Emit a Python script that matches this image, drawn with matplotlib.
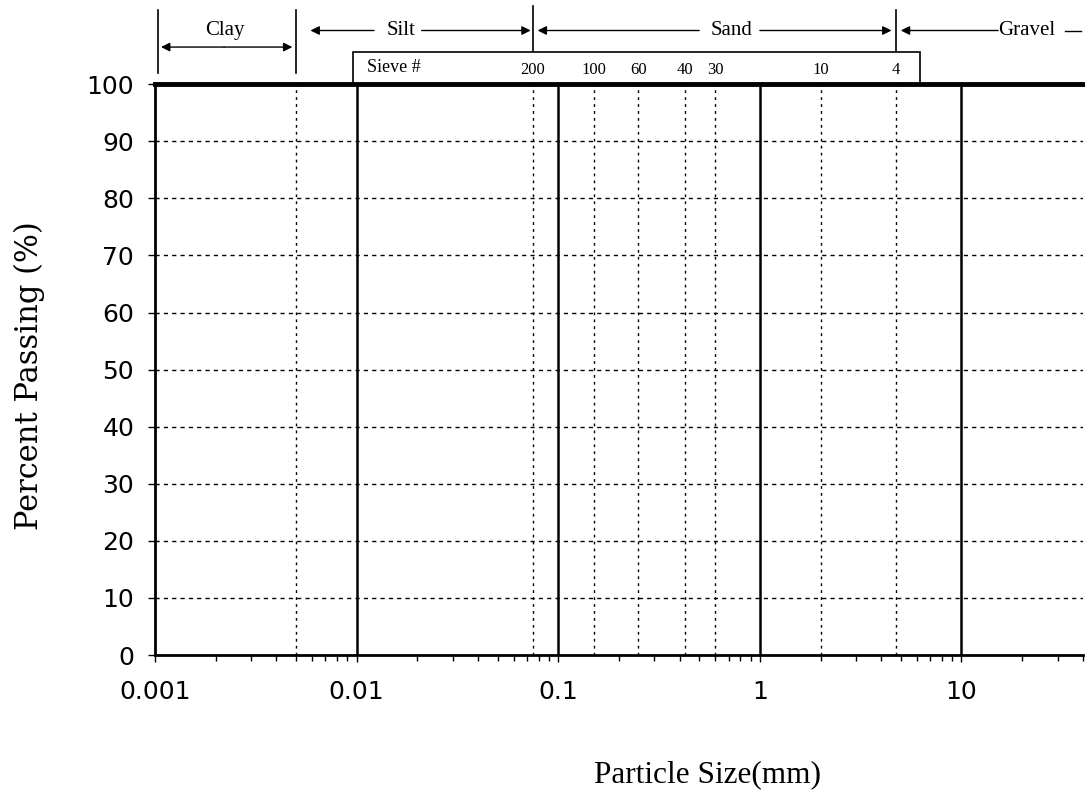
import matplotlib
matplotlib.use("Agg")
import matplotlib.pyplot as plt
import matplotlib.transforms as mtransforms
from matplotlib.patches import Rectangle
from matplotlib.ticker import LogLocator, NullFormatter

# Axis ranges and ticks
x_min, x_max = 0.001, 40
decade_ticks = [0.001, 0.01, 0.1, 1, 10]
decade_labels = ["0.001", "0.01", "0.1", "1", "10"]
percent_ticks = [0, 10, 20, 30, 40, 50, 60, 70, 80, 90, 100]

# Sieve numbers and their openings (mm)
sieve_names = ["200", "100", "60", "40", "30", "10", "4"]
sieve_sizes = [0.075, 0.15, 0.25, 0.425, 0.6, 2.0, 4.75]

# Soil class boundaries (mm)
clay_silt = 0.005
silt_sand = 0.075
sand_gravel = 4.75

serif = ["Liberation Serif", "DejaVu Serif"]

fig = plt.figure(figsize=(10.85, 7.94), dpi=100)
ax = fig.add_axes([0.1429, 0.175, 0.8551, 0.719])
ax.set_xscale("log")
ax.set_xlim(x_min, x_max)
ax.set_ylim(0, 100)

# grid: dotted horizontals, solid decade verticals, dotted sieve verticals
for p in percent_ticks[1:-1]:
    ax.axhline(p, color="k", lw=1.0, ls=(0, (3, 3)), zorder=1)
for d in decade_ticks[1:]:
    ax.axvline(d, color="k", lw=1.8, zorder=2)
for s in [clay_silt] + sieve_sizes:
    ax.axvline(s, color="k", lw=1.0, ls=(0, (2, 3)), zorder=1)

ax.set_xticks(decade_ticks)
ax.set_xticklabels(decade_labels, fontfamily="DejaVu Sans", fontsize=18)
ax.xaxis.set_minor_locator(LogLocator(base=10, subs=range(2, 10)))
ax.xaxis.set_minor_formatter(NullFormatter())
ax.set_yticks(percent_ticks)
ax.set_yticklabels([str(p) for p in percent_ticks], fontfamily="DejaVu Sans", fontsize=18)
ax.tick_params(axis="both", which="major", direction="out", length=5, width=1)
ax.tick_params(axis="x", which="minor", direction="out", length=4, width=1)
ax.tick_params(axis="y", pad=10)
ax.tick_params(axis="x", pad=13)

ax.spines["top"].set_linewidth(3.5)
ax.spines["bottom"].set_linewidth(2)
ax.spines["left"].set_linewidth(2)
ax.spines["right"].set_visible(False)

fig.text(707 / 1085, 1 - 775 / 794, "Particle Size(mm)", fontfamily=serif, fontsize=22.5,
         ha="center", va="center")
fig.text(29 / 1085, 1 - 376 / 794, "Percent Passing (%)", fontfamily="DejaVu Serif",
         fontsize=22, rotation=90, ha="center", va="center")

# annotations above the plot: x in data, y in axes fraction
trans = mtransforms.blended_transform_factory(ax.transData, ax.transAxes)

# sieve box
box_right = 6.2
box_left = 0.0096
ax.add_patch(Rectangle((box_left, 1.0), box_right - box_left, 0.056, transform=trans,
                       fill=False, ec="k", lw=1.2, clip_on=False, zorder=3))
ax.text(0.0113, 1.029, "Sieve #", transform=trans, fontfamily=serif, fontsize=13,
        ha="left", va="center")
for name, size in zip(sieve_names, sieve_sizes):
    ax.text(size, 1.024, name, transform=trans, fontfamily=serif, fontsize=12,
            ha="center", va="center")

# class boundary marks
for xb, y0, y1 in [(0.00103, 1.019, 1.13), (clay_silt, 1.019, 1.13),
                   (silt_sand, 1.058, 1.137), (sand_gravel, 1.058, 1.13)]:
    ax.plot([xb, xb], [y0, y1], transform=trans, color="k", lw=1.2, clip_on=False)

def arrow(x_from, x_to, y):
    ax.annotate("", xy=(x_to, y), xytext=(x_from, y), xycoords=trans, textcoords=trans,
                arrowprops=dict(arrowstyle="-|>", color="k", lw=1.0,
                                mutation_scale=13, shrinkA=0, shrinkB=0),
                annotation_clip=False)

label_y = 1.094
# Clay
ax.text(0.00223, label_y, "Clay", transform=trans, fontfamily=serif, fontsize=15,
        ha="center", va="center")
arrow(0.0022, 0.00107, 1.065)
arrow(0.0022, 0.0048, 1.065)
# Silt
ax.text(0.0167, label_y, "Silt", transform=trans, fontfamily=serif, fontsize=15,
        ha="center", va="center")
arrow(0.0122, 0.0059, label_y)
arrow(0.021, 0.073, label_y)
# Sand
ax.text(0.72, label_y, "Sand", transform=trans, fontfamily=serif, fontsize=15,
        ha="center", va="center")
arrow(0.5, 0.079, label_y)
arrow(1.0, 4.5, label_y)
# Gravel
ax.text(21, label_y, "Gravel", transform=trans, fontfamily=serif, fontsize=15,
        ha="center", va="center")
arrow(15.2, 5.0, label_y)
ax.plot([32.5, 39], [label_y, label_y], transform=trans, color="k", lw=1.0, clip_on=False)

fig.savefig("out.png", dpi=100)
